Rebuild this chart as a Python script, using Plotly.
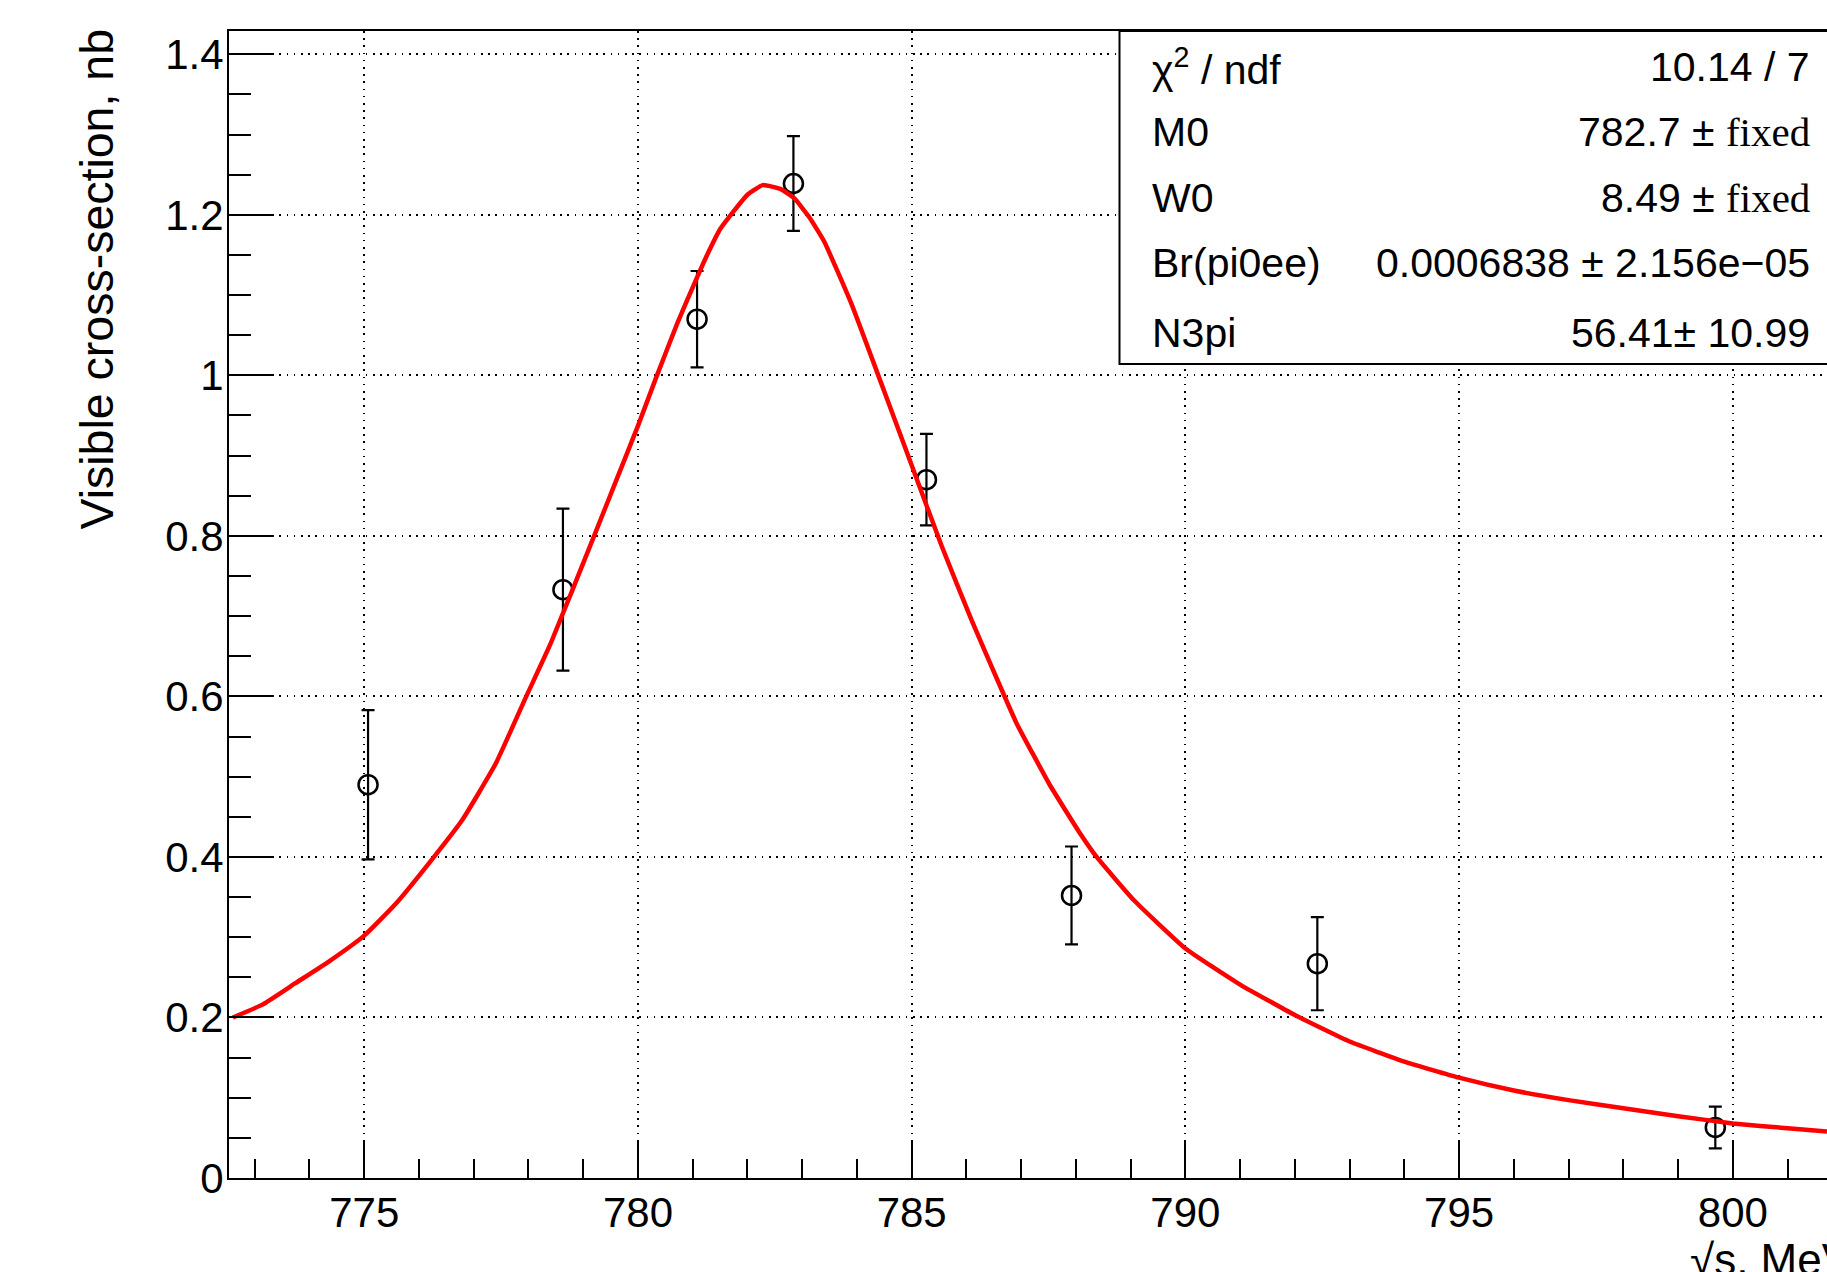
import plotly.graph_objects as go

# ---- data ----
data_x = [775.07, 778.63, 781.08, 782.84, 785.27, 787.92, 792.41, 799.68]
data_y = [0.490, 0.733, 1.070, 1.239, 0.870, 0.352, 0.267, 0.063]
data_err = [0.093, 0.101, 0.060, 0.059, 0.057, 0.061, 0.058, 0.026]

fit_x = [772.6, 773.14, 773.75, 774.36, 775.0, 775.58, 776.25, 776.8, 777.4, 777.96,
         778.4, 779.2, 779.62, 780.0, 780.32, 780.72, 781.08, 781.25, 781.5, 782.0,
         782.28, 782.61, 782.85, 783.13, 783.4, 783.9, 784.39, 784.69, 785.0, 785.55,
         786.1, 786.62, 786.92, 787.53, 788.08, 788.39, 789.06, 790.0, 791.0, 792.0,
         793.0, 794.0, 795.0, 796.0, 797.0, 798.0, 799.0, 800.0, 801.0, 801.72]
fit_y = [0.200, 0.216, 0.243, 0.270, 0.302, 0.342, 0.398, 0.447, 0.516, 0.600,
         0.665, 0.800, 0.872, 0.937, 0.995, 1.065, 1.122, 1.148, 1.182, 1.225,
         1.237, 1.232, 1.221, 1.197, 1.167, 1.089, 1.000, 0.945, 0.888, 0.787,
         0.694, 0.612, 0.566, 0.489, 0.429, 0.399, 0.346, 0.286, 0.241, 0.203,
         0.170, 0.145, 0.125, 0.109, 0.097, 0.087, 0.077, 0.068, 0.062, 0.058]

x_tick_vals = [775, 780, 785, 790, 795, 800]
x_tick_text = ["775", "780", "785", "790", "795", "800"]
y_tick_vals = [0, 0.2, 0.4, 0.6, 0.8, 1.0, 1.2, 1.4]
y_tick_text = ["0", "0.2", "0.4", "0.6", "0.8", "1", "1.2", "1.4"]

stat_labels = ["χ<sup>2</sup> / ndf", "M0", "W0", "Br(pi0ee)", "N3pi"]
stat_values = ["10.14 / 7",
               "782.7 ± <span style='font-family:Liberation Serif'>fixed</span>",
               "8.49 ± <span style='font-family:Liberation Serif'>fixed</span>",
               "0.0006838 ± 2.156e−05",
               "56.41± 10.99"]

x_title = "√s, MeV"
y_title = "Visible cross-section, nb"

# ---- layout geometry ----
W, H = 1827, 1272
ML, MR, MT, MB = 229, 0, 31, 94
FONT = "Liberation Sans"

fig = go.Figure()

fig.add_trace(go.Scatter(
    x=data_x, y=data_y, mode="markers",
    marker=dict(symbol="circle-open", size=19, color="black", line=dict(width=2.5, color="black")),
    error_y=dict(type="data", array=data_err, visible=True, color="black", thickness=2.2, width=6.5),
    showlegend=False, hoverinfo="skip"))

fig.add_trace(go.Scatter(
    x=fit_x, y=fit_y, mode="lines", line=dict(color="#ff0000", width=4.5, shape="spline", smoothing=0.4),
    showlegend=False, hoverinfo="skip"))

axis_common = dict(
    showline=True, linecolor="black", linewidth=2,
    ticks="inside", tickcolor="black", tickwidth=2,
    showgrid=True, gridcolor="black", gridwidth=1.6, griddash="1.6px,5.6px",
    zeroline=False,
    tickfont=dict(family=FONT, size=42, color="black"),
)

fig.update_xaxes(
    range=[772.53, 801.72], tickvals=x_tick_vals, ticktext=x_tick_text,
    ticklen=37, mirror=True, ticklabelstandoff=-3,
    minor=dict(dtick=1, tick0=0, ticklen=19, ticks="inside", tickcolor="black", tickwidth=2, showgrid=False),
    **axis_common)
fig.update_yaxes(
    range=[0, 1.429], tickvals=y_tick_vals, ticktext=y_tick_text,
    ticklen=45, ticklabelstandoff=-5,
    minor=dict(dtick=0.05, tick0=0, ticklen=22, ticks="inside", tickcolor="black", tickwidth=2, showgrid=False),
    **axis_common)

plot_w = W - ML - MR
plot_h = H - MT - MB

def px_x(p):
    return (p - ML) / plot_w

def px_y(p):
    return (H - MB - p) / plot_h

shapes = [dict(type="rect", xref="paper", yref="paper",
               x0=px_x(1119.5), x1=px_x(1900), y0=px_y(364), y1=1.0,
               fillcolor="white", line=dict(color="black", width=2), layer="above")]

annotations = []
row_y = [67, 132, 198, 263, 333]
for lab, val, ry in zip(stat_labels, stat_values, row_y):
    annotations.append(dict(xref="paper", yref="paper", x=px_x(1150), y=px_y(ry),
                            xanchor="left", yanchor="middle", showarrow=False, text=lab,
                            font=dict(family=FONT, size=41, color="black")))
    annotations.append(dict(xref="paper", yref="paper", x=px_x(1812), y=px_y(ry),
                            xanchor="right", yanchor="middle", showarrow=False, text=val,
                            font=dict(family=FONT, size=41, color="black")))

annotations.append(dict(xref="paper", yref="paper", x=px_x(96), y=px_y(27),
                        xanchor="center", yanchor="top", showarrow=False, textangle=-90,
                        text=y_title, font=dict(family=FONT, size=46.5, color="black")))
annotations.append(dict(xref="paper", yref="paper", x=px_x(1688), y=px_y(1233),
                        xanchor="left", yanchor="top", showarrow=False,
                        text=x_title, font=dict(family=FONT, size=44, color="black")))

fig.update_layout(
    width=W, height=H,
    margin=dict(l=ML, r=MR, t=MT, b=MB, pad=0),
    paper_bgcolor="white", plot_bgcolor="white",
    shapes=shapes, annotations=annotations,
    font=dict(family=FONT, color="black"),
)

fig.write_html("out.html")
